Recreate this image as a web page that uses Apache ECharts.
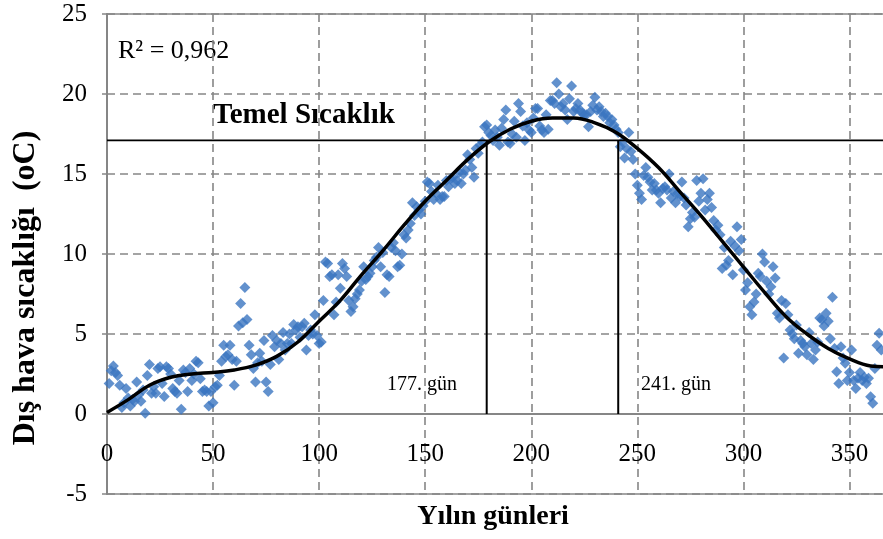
<!DOCTYPE html>
<html>
<head>
<meta charset="utf-8">
<script src="https://cdn.jsdelivr.net/npm/echarts@6/dist/echarts.min.js"></script>
<style>
html,body{margin:0;padding:0;width:883px;height:539px;overflow:hidden;background:#fff;}
#c{width:960px;height:539px;}
</style>
</head>
<body>
<div id="c"></div>
<script>
// Daily outdoor temperature (day 1..365)
var dailyTemp = [
1.9,2.7,3.0,2.6,2.4,1.8,0.4,0.7,1.6,1.0,
0.5,0.9,0.8,2.0,1.2,0.8,1.5,0.05,2.4,3.1,
1.3,1.7,1.3,2.85,2.96,1.9,1.1,2.96,2.85,2.5,
1.6,1.4,1.3,2.1,0.3,2.75,2.6,1.4,2.85,2.1,
2.5,3.3,3.2,2.2,1.4,1.5,1.4,0.5,1.4,0.7,
1.7,1.8,2.4,3.3,4.3,3.6,3.7,4.3,3.4,1.8,
3.3,5.5,6.9,5.7,7.9,5.9,4.3,3.7,2.85,2.0,
3.2,3.8,3.3,4.6,2.0,1.4,3.1,4.9,4.2,4.6,
3.4,4.4,5.1,4.0,4.4,5.0,4.4,5.6,5.25,5.46,
4.8,5.46,5.67,4.0,4.9,5.25,5.0,6.2,4.9,4.4,
4.5,7.1,9.5,9.4,8.6,8.7,6.2,7.0,8.7,7.86,
9.4,9.1,8.6,7.1,6.4,6.7,7.2,7.5,7.75,8.3,
9.2,8.4,8.6,8.8,9.2,9.6,9.8,10.4,9.2,10.1,
7.6,8.7,8.6,10.4,10.7,10.2,9.2,9.3,10.0,11.2,
11.0,11.5,11.9,13.2,12.4,12.96,12.75,12.5,13.0,13.3,
14.5,14.4,13.9,13.4,13.8,14.3,13.4,13.6,13.6,14.6,
14.2,14.7,14.8,14.4,14.6,15.1,14.4,15.0,15.25,16.2,
15.9,15.4,14.8,16.6,16.3,16.8,17.0,17.96,18.06,17.6,
17.4,17.1,17.75,17.3,16.8,17.86,18.4,19.0,17.0,16.9,
17.5,18.3,17.3,19.4,18.9,18.0,17.1,18.2,17.75,17.6,
18.5,19.1,19.1,18.0,17.75,17.6,18.7,17.8,19.6,19.6,
19.4,20.7,20.0,19.2,19.4,19.0,18.4,19.7,20.5,18.9,
19.1,19.4,19.0,18.8,18.7,18.7,17.96,18.9,19.3,19.8,
19.0,19.2,18.9,18.6,18.8,18.6,18.2,18.4,18.06,17.8,
17.6,16.7,17.0,16.0,16.6,17.6,16.4,15.9,15.0,14.3,
13.8,13.4,14.9,15.4,14.8,14.5,14.0,14.4,14.0,13.8,
13.2,14.1,14.2,14.0,15.0,13.5,13.9,13.2,13.8,13.6,
14.5,13.5,13.06,11.7,12.2,12.6,12.3,14.6,13.3,13.8,
14.7,12.75,13.4,13.8,12.9,12.1,11.5,11.8,11.2,9.1,
10.4,9.3,9.6,10.8,8.7,10.5,11.7,10.2,10.9,9.0,
7.75,8.2,6.7,6.2,7.0,7.5,8.8,8.6,10.0,9.5,
8.3,7.5,7.96,9.2,8.5,6.3,6.0,7.1,3.5,6.9,
6.2,5.25,5.0,4.7,5.56,3.8,4.6,4.4,4.2,3.7,
5.1,4.4,3.4,4.0,4.5,6.0,5.9,5.5,6.3,5.8,
4.7,7.3,4.1,2.64,1.9,4.2,3.5,3.17,2.1,2.6,
4.0,2.1,1.6,2.23,2.6,2.1,2.3,1.9,2.23,1.08,
0.67,2.85,4.3,5.04,4.0
];
// Polynomial trend line
var trendDays = [0,10,20,30,40,50,60,70,80,90,100,110,120,130,140,150,160,170,180,190,200,210,220,230,240,250,260,270,280,290,300,310,320,330,340,350,360,366];
var trendTemp = [0.1,0.9,1.8,2.3,2.5,2.6,2.75,3.05,3.6,4.5,5.8,7.1,8.7,10.2,11.8,13.3,14.6,15.9,17.0,17.8,18.3,18.5,18.5,18.2,17.6,16.6,15.4,13.9,12.4,10.8,9.2,7.6,6.1,5.0,4.1,3.45,3.0,2.95];
// Base temperature and the two crossing days (as drawn)
var baseTemp = 17.1;
var crossDays = [179, 241];
var crossLabels = ['177. gün', '241. gün'];
var xTicks = {min:0, max:400, interval:50};
var yTicks = {min:-5, max:25, interval:5};

var scatterData = dailyTemp.map(function(v,i){return [i+1, v];});
var trendData = trendDays.map(function(d,i){return [d, trendTemp[i]];});

var serif = '"Liberation Serif","Times New Roman",serif';
var dash = {color:'#868686', width:1.6, type:[8,5]};

var series = [
  {type:'scatter', data:scatterData, symbol:'diamond', symbolSize:11,
   itemStyle:{color:'#3B76C0'}, z:3},
  {type:'line', data:trendData, smooth:0.4, showSymbol:false, symbol:'none',
   lineStyle:{color:'#000', width:3.5}, z:4},
  {type:'line', data:[[xTicks.min, baseTemp],[xTicks.max, baseTemp]], symbol:'none',
   lineStyle:{color:'#000', width:1.8}, z:5}
];
crossDays.forEach(function(d){
  series.push({type:'line', data:[[d,0],[d,baseTemp]], symbol:'none',
    lineStyle:{color:'#000', width:2}, z:5});
});

var chart = echarts.init(document.getElementById('c'), null, {renderer:'canvas'});
chart.setOption({
  animation:false,
  grid:{left:107, top:14, width:848.5, height:480, show:true, borderColor:'#868686', borderWidth:1.5,
        containLabel:false, outerBoundsMode:'none'},
  xAxis:{type:'value', min:xTicks.min, max:xTicks.max, interval:xTicks.interval,
    offset:-80,
    axisLine:{show:true, onZero:false, lineStyle:{color:'#868686', width:2}},
    axisTick:{show:false},
    axisLabel:{color:'#000', fontFamily:serif, fontSize:25, margin:28},
    splitLine:{show:true, lineStyle:dash}},
  yAxis:{type:'value', min:yTicks.min, max:yTicks.max, interval:yTicks.interval,
    axisLine:{show:true, onZero:false, lineStyle:{color:'#868686', width:2}},
    axisTick:{show:true, length:5, lineStyle:{color:'#868686', width:1.5}},
    axisLabel:{color:'#000', fontFamily:serif, fontSize:25, margin:20},
    splitLine:{show:true, lineStyle:dash}},
  series:series,
  graphic:[
    {type:'text', x:493, y:517, style:{text:'Yılın günleri', font:'bold 28px '+serif, fill:'#000', align:'center', verticalAlign:'middle'}},
    {type:'text', x:26, y:288, rotation:Math.PI/2, style:{text:'Dış hava sıcaklığı  (oC)', font:'bold 32px '+serif, fill:'#000', align:'center', verticalAlign:'middle'}},
    {type:'text', x:118, y:51, style:{text:'R² = 0,962', font:'26px '+serif, fill:'#000', align:'left', verticalAlign:'middle'}},
    {type:'text', x:213, y:116, style:{text:'Temel Sıcaklık', font:'bold 29px '+serif, fill:'#000', align:'left', verticalAlign:'middle'}},
    {type:'text', x:387, y:385, style:{text:crossLabels[0], font:'20px '+serif, fill:'#000', align:'left', verticalAlign:'middle'}},
    {type:'text', x:641, y:385, style:{text:crossLabels[1], font:'20px '+serif, fill:'#000', align:'left', verticalAlign:'middle'}}
  ]
});
</script>
</body>
</html>
